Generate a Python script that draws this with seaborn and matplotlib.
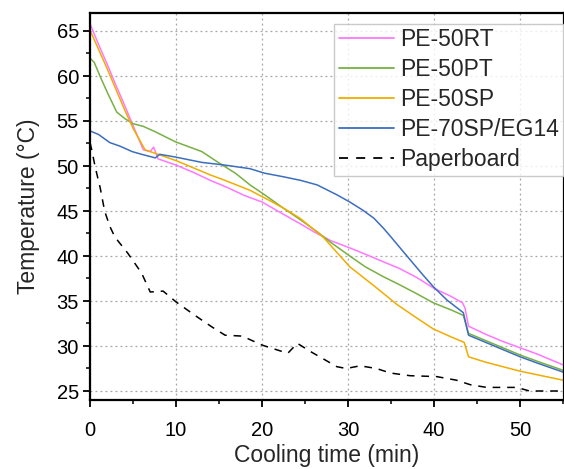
import numpy as np
import pandas as pd
import matplotlib
matplotlib.use("Agg")
import matplotlib.pyplot as plt
from matplotlib.ticker import MultipleLocator
import seaborn as sns

# Cooling curves: time (min) and temperature (°C) per sample
rt_time = [0, 1, 2, 3, 4, 5, 6.2, 7.0, 7.4, 7.9, 10, 12, 14, 16, 18, 20, 22, 24.4,
           26, 28, 30.2, 32, 34, 36, 38, 40, 42, 43.3, 43.6, 44.0, 46, 48, 50, 52, 55]
rt_temp = [65.8, 63.5, 61.3, 59.0, 56.8, 54.5, 51.8, 51.6, 52.1, 50.8, 50.1, 49.3, 48.4,
           47.6, 46.7, 46.0, 44.9, 43.6, 42.7, 41.7, 40.9, 40.2, 39.4, 38.6, 37.6, 36.4,
           35.5, 34.8, 34.2, 32.2, 31.3, 30.5, 29.8, 29.1, 27.9]

pt_time = [0, 0.5, 1.2, 2, 3.1, 4, 5, 6.2, 7.6, 9.9, 13, 14.9, 16.9, 18.6, 20.3, 22.5,
           24.5, 26.4, 28, 30.2, 32, 34.1, 36, 38, 39.9, 42, 43.4, 44.0, 46, 48, 50, 52, 55]
pt_temp = [62.0, 61.5, 59.9, 58.2, 56.0, 55.3, 54.7, 54.4, 53.8, 52.7, 51.6, 50.4, 49.2,
           47.9, 46.8, 45.3, 44.0, 42.7, 41.5, 40.0, 38.8, 37.7, 36.8, 35.8, 34.8, 34.0,
           33.4, 31.4, 30.6, 29.8, 29.0, 28.3, 27.3]

sp_time = [0, 2, 4, 5, 6.4, 7.9, 10, 12, 14, 15.7, 18.6, 21.2, 22.7, 24.4, 27.1, 30.2,
           33, 35.7, 38, 39.9, 42, 43.5, 44.0, 46, 48, 50, 52, 55]
sp_temp = [65.1, 60.8, 56.3, 54.2, 51.8, 51.3, 50.6, 49.8, 49.0, 48.4, 47.3, 46.0, 45.2,
           44.2, 42.1, 38.8, 36.7, 34.6, 33.1, 31.9, 31.0, 30.4, 28.8, 28.2, 27.7, 27.2,
           26.8, 26.2]

eg_time = [0, 1, 2.3, 3.5, 4.9, 6, 7.6, 8.1, 9.9, 13, 15.7, 18.6, 20.3, 22.5, 24.5, 26.4,
           28.7, 30.2, 31.7, 33, 34.1, 35, 36.4, 38.7, 39.9, 41.5, 43.4, 44.0, 46, 48, 50,
           52, 55]
eg_temp = [53.9, 53.5, 52.6, 52.2, 51.6, 51.3, 50.9, 51.3, 51.0, 50.4, 50.1, 49.7, 49.2,
           48.8, 48.4, 47.9, 46.8, 46.0, 45.1, 44.2, 43.1, 42.1, 40.5, 37.9, 36.6, 35.1,
           33.7, 31.2, 30.4, 29.6, 28.8, 28.1, 27.1]

pb_time = [0, 0.2, 0.6, 1.2, 1.7, 2.3, 2.9, 4.4, 6.0, 7.0, 8.5, 10.0, 12.2, 14.2, 15.7,
           17.7, 20.0, 22.3, 23.0, 24.1, 25.6, 26.7, 28.7, 29.8, 31.4, 33.3, 34.9, 37.2,
           40.3, 42.6, 44.2, 46.1, 49.6, 51.1, 55]
pb_temp = [52.6, 51.8, 49.9, 47.5, 45.0, 43.3, 42.1, 40.3, 38.1, 36.0, 36.1, 34.9, 33.4,
           32.1, 31.2, 31.1, 30.1, 29.4, 29.2, 30.3, 29.4, 28.8, 27.7, 27.5, 27.8, 27.5,
           27.0, 26.7, 26.6, 26.2, 25.7, 25.4, 25.4, 25.0, 25.0]

labels = ["PE-50RT", "PE-50PT", "PE-50SP", "PE-70SP/EG14", "Paperboard"]
colors = ["#FF77FF", "#77B043", "#F0AD00", "#3C6EBE", "#000000"]
series = [(rt_time, rt_temp), (pt_time, pt_temp), (sp_time, sp_temp),
          (eg_time, eg_temp), (pb_time, pb_temp)]

sns.set_style("white")
plt.rcParams["font.family"] = ["Liberation Sans", "DejaVu Sans"]

fig = plt.figure(figsize=(5.64, 4.69), dpi=100)
ax = fig.add_axes([90 / 564, 69 / 469, 474 / 564, 387 / 469])

for (t, T), lab, col in zip(series, labels, colors):
    df = pd.DataFrame({"time": t, "temp": T})
    sns.lineplot(data=df, x="time", y="temp", ax=ax, color=col, label=lab,
                 linewidth=1.1, estimator=None, sort=False)
    if lab == "Paperboard":
        ax.lines[-1].set_dashes((5.0, 4.5))

ax.set_xlim(0, 55.1)
ax.set_ylim(24, 67)
ax.xaxis.set_major_locator(MultipleLocator(10))
ax.xaxis.set_minor_locator(MultipleLocator(5))
ax.yaxis.set_major_locator(MultipleLocator(5))
ax.yaxis.set_minor_locator(MultipleLocator(2.5))
ax.tick_params(which="both", bottom=True, left=True, top=False, right=False)
ax.tick_params(which="major", direction="out", length=5, width=1.3,
               labelsize=14.5, colors="black")
ax.tick_params(which="minor", direction="out", length=3, width=1.3)
ax.tick_params(axis="x", which="major", pad=10)
ax.tick_params(axis="y", which="major", pad=3)

ax.grid(True, which="major", linestyle=(0, (1.5, 2.5)), color="#a5a5a5", linewidth=0.9)
for side in ["left", "bottom", "top", "right"]:
    ax.spines[side].set_color("black")
    ax.spines[side].set_linewidth(1.6)

ax.set_xlabel("Cooling time (min)", fontsize=16.5, labelpad=3)
ax.set_ylabel("Temperature (°C)", fontsize=16.5, labelpad=12)

leg = ax.legend(loc="upper right", bbox_to_anchor=(1.0, 0.972), borderaxespad=0,
                fontsize=16.5, handlelength=2.4, handletextpad=0.3, labelspacing=0.3,
                borderpad=0.2, frameon=True, fancybox=False)
leg.get_frame().set_edgecolor("#bdbdbd")
leg.get_frame().set_linewidth(1.0)
for h in leg.get_lines():
    h.set_linewidth(1.3)

fig.savefig("out.png", dpi=100)
